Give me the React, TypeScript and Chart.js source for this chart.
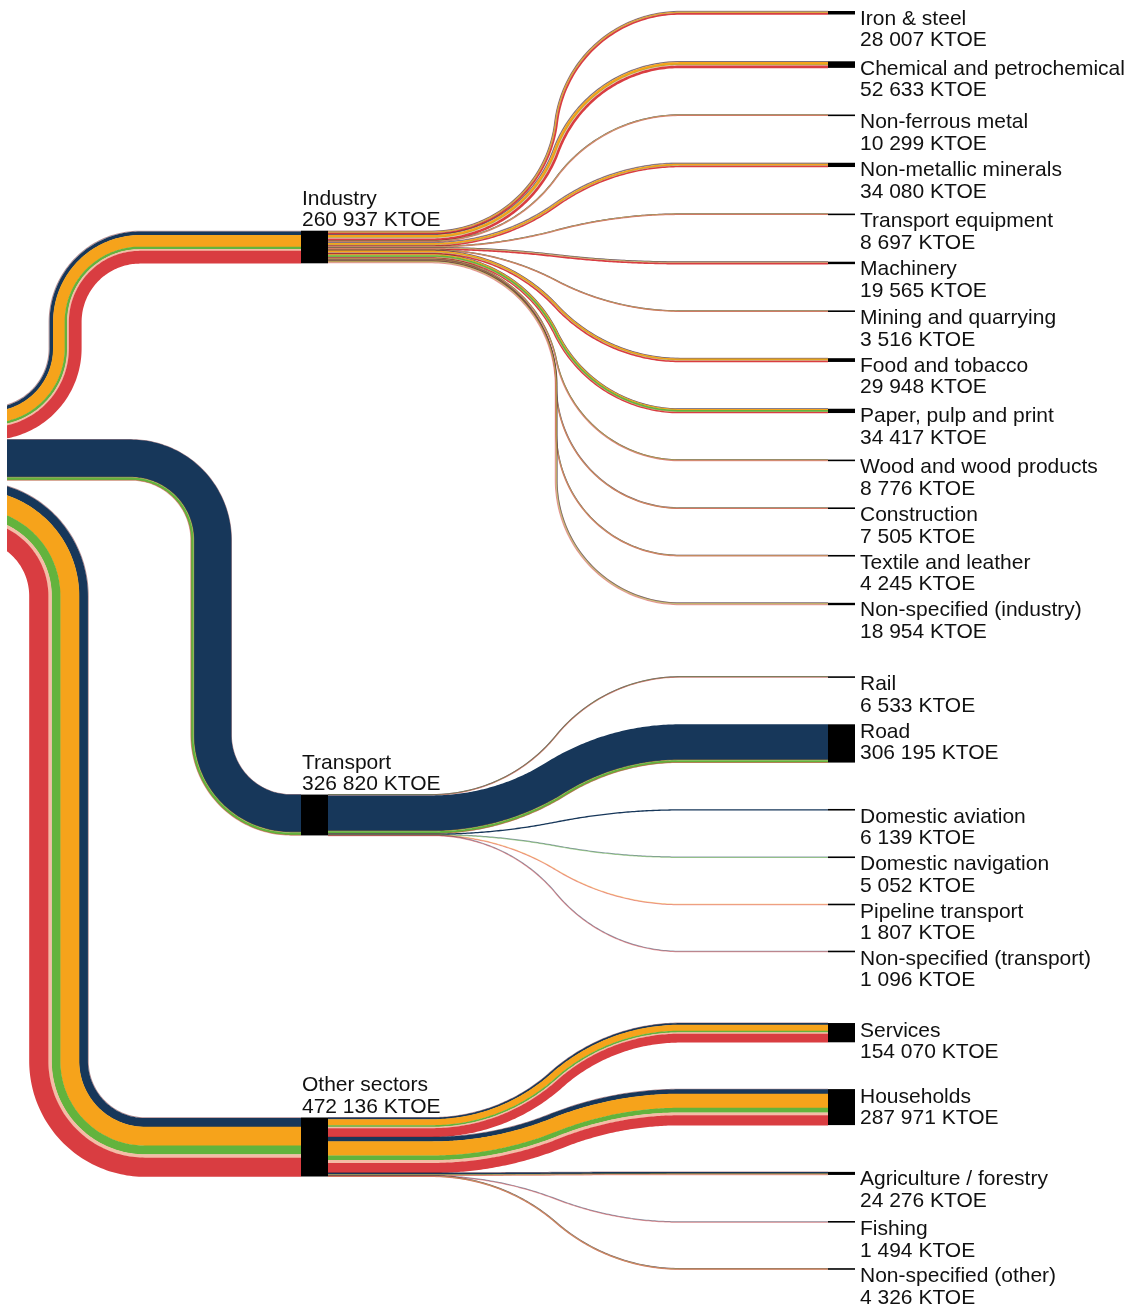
import React, { useEffect, useRef } from "react";
import { Chart, registerables } from "chart.js";

Chart.register(...registerables);

// ---------------- DATA ----------------
const UNIT = "KTOE";

// fuel families, drawn top -> bottom inside every flow
const FUEL_TYPES = [
  "Solid fossil fuels",
  "Oil and petroleum products",
  "Natural gas",
  "Renewables and biofuels",
  "Heat",
  "Electricity",
];

const SECTOR_NAMES = ["Industry", "Transport", "Other sectors"];
const SECTOR_VALUES = [260937, 326820, 472136];
const INDUSTRY_FUEL_MIX = [7000, 27500, 93000, 19500, 14400, 99537];
const TRANSPORT_FUEL_MIX = [50, 299970, 3500, 18500, 0, 4800];
const OTHER_FUEL_MIX = [4700, 69000, 151000, 69000, 27400, 151036];

const INDUSTRY_NAMES = [
  "Iron & steel",
  "Chemical and petrochemical",
  "Non-ferrous metal",
  "Non-metallic minerals",
  "Transport equipment",
  "Machinery",
  "Mining and quarrying",
  "Food and tobacco",
  "Paper, pulp and print",
  "Wood and wood products",
  "Construction",
  "Textile and leather",
  "Non-specified (industry)",
];
const INDUSTRY_VALUES = [28007, 52633, 10299, 34080, 8697, 19565, 3516, 29948, 34417, 8776, 7505, 4245, 18954];
const INDUSTRY_MIX = [
  [5000, 1000, 9500, 500, 500, 11507],
  [1500, 5000, 20000, 1500, 6000, 18633],
  [200, 600, 3000, 100, 300, 6099],
  [2500, 5000, 14000, 3000, 300, 9280],
  [50, 300, 2800, 100, 400, 5047],
  [100, 1500, 6000, 400, 1000, 10565],
  [50, 800, 700, 50, 50, 1866],
  [500, 2000, 13000, 2500, 2000, 9948],
  [500, 800, 8000, 15000, 2000, 8117],
  [20, 400, 800, 4500, 300, 2756],
  [20, 3500, 1200, 300, 100, 2385],
  [20, 300, 1700, 100, 300, 1825],
  [500, 2500, 5000, 2500, 1500, 6954],
];

const TRANSPORT_NAMES = [
  "Rail",
  "Road",
  "Domestic aviation",
  "Domestic navigation",
  "Pipeline transport",
  "Non-specified (transport)",
];
const TRANSPORT_VALUES = [6533, 306195, 6139, 5052, 1807, 1096];
const TRANSPORT_MIX = [
  [10, 1800, 0, 100, 0, 4623],
  [0, 284000, 3000, 17500, 0, 1695],
  [0, 6139, 0, 0, 0, 0],
  [0, 1800, 0, 3252, 0, 0],
  [0, 0, 1000, 0, 0, 807],
  [0, 600, 0, 0, 0, 496],
];

const OTHER_NAMES = ["Services", "Households", "Agriculture / forestry", "Fishing", "Non-specified (other)"];
const OTHER_VALUES = [154070, 287971, 24276, 1494, 4326];
const OTHER_MIX = [
  [500, 13000, 48000, 13000, 11000, 68570],
  [2000, 34600, 113000, 37000, 23000, 78371],
  [200, 14000, 3000, 2500, 300, 4276],
  [0, 1400, 0, 0, 0, 94],
  [50, 1800, 800, 300, 200, 1176],
];

// ---------------- STYLE / LAYOUT ----------------
const FUEL_COLORS = ["#6e1d24", "#17375a", "#f6a31b", "#63b33d", "#f4bca6", "#d93d41"];
const CANVAS_W = 1131;
const CANVAS_H = 1309;
const PX_PER_UNIT = 1.25e-4; // vertical layout scale (px per KTOE)
const LAYOUT = {
  clipLeft: 7,
  sourceX: -60,
  sourceTop: 407,
  sectorNodeX: 301,
  nodeW: 27,
  sectorCenters: [247, 815, 1147],
  leftBends: [
    { xc: 65, r: 75 },
    { xc: 211, r: 80 },
    { xc: 59, r: 86 },
  ],
  curveStart: 432,
  curveEnd: 680,
  rightNodeX: 828,
  rightTop: 11,
  gap: 46.8,
  groupGap: 71.5,
  minLink: 1.0,
  minStripe: 1.0,
  thinAlpha: 0.5,
  minNode: 1.6,
  labelX: 860,
  font: '21px "Liberation Sans", Arial, Helvetica, sans-serif',
  textColor: "#111111",
};

const fmt = (n: number) => String(n).replace(/\B(?=(\d{3})+(?!\d))/g, " ") + " " + UNIT;

type Pt = { x: number; y: number; a: number };

function centerline(xStart: number, y0: number, xs: number, xe: number, y1: number, xEnd: number): Pt[] {
  const pts: Pt[] = [{ x: xStart, y: y0, a: 0 }];
  const H = Math.abs(y1 - y0);
  const s = y1 >= y0 ? 1 : -1;
  const W = xe - xs;
  if (H < 0.05) {
    pts.push({ x: xEnd, y: y1, a: 0 });
    return pts;
  }
  let th: number, r: number;
  if (H <= W) {
    th = 2 * Math.atan(H / W);
    r = W / (2 * Math.sin(th));
  } else {
    th = Math.PI / 2;
    r = W / 2;
  }
  const N = 60;
  for (let i = 0; i <= N; i++) {
    const al = (th * i) / N;
    pts.push({ x: xs + r * Math.sin(al), y: y0 + s * r * (1 - Math.cos(al)), a: s * al });
  }
  for (let i = N; i >= 0; i--) {
    const b = (th * i) / N;
    pts.push({ x: xe - r * Math.sin(b), y: y1 - s * r * (1 - Math.cos(b)), a: s * b });
  }
  pts.push({ x: xEnd, y: y1, a: 0 });
  return pts;
}

function fillStripe(ctx: CanvasRenderingContext2D, pts: Pt[], d1: number, d2: number, color: string) {
  ctx.beginPath();
  pts.forEach((p, i) => {
    const x = p.x - d1 * Math.sin(p.a);
    const y = p.y + d1 * Math.cos(p.a);
    if (i === 0) ctx.moveTo(x, y);
    else ctx.lineTo(x, y);
  });
  for (let i = pts.length - 1; i >= 0; i--) {
    const p = pts[i];
    ctx.lineTo(p.x - d2 * Math.sin(p.a), p.y + d2 * Math.cos(p.a));
  }
  ctx.closePath();
  ctx.fillStyle = color;
  ctx.fill();
}

function drawBand(ctx: CanvasRenderingContext2D, pts: Pt[], width: number, mix: number[]) {
  const total = mix.reduce((a, b) => a + b, 0);
  let d = -width / 2;
  mix.forEach((v, j) => {
    if (v <= 0) return;
    const w = (v / total) * width;
    if (w < LAYOUT.minStripe) {
      const c = d + w / 2;
      ctx.globalAlpha = LAYOUT.thinAlpha;
      fillStripe(ctx, pts, c - LAYOUT.minStripe / 2, c + LAYOUT.minStripe / 2, FUEL_COLORS[j]);
      ctx.globalAlpha = 1;
    } else {
      fillStripe(ctx, pts, d, d + w + 0.3, FUEL_COLORS[j]);
    }
    d += w;
  });
}

const SECTORS = SECTOR_NAMES.map((name, i) => ({
  name,
  value: SECTOR_VALUES[i],
  mix: [INDUSTRY_FUEL_MIX, TRANSPORT_FUEL_MIX, OTHER_FUEL_MIX][i],
  subs: [
    INDUSTRY_NAMES.map((n, j) => ({ name: n, value: INDUSTRY_VALUES[j], mix: INDUSTRY_MIX[j] })),
    TRANSPORT_NAMES.map((n, j) => ({ name: n, value: TRANSPORT_VALUES[j], mix: TRANSPORT_MIX[j] })),
    OTHER_NAMES.map((n, j) => ({ name: n, value: OTHER_VALUES[j], mix: OTHER_MIX[j] })),
  ][i],
}));

const sankeyPlugin = {
  id: "sankeyFlows",
  afterDatasetsDraw(chart: any) {
    const ctx: CanvasRenderingContext2D = chart.ctx;
    const X = chart.scales.x;
    const Y = chart.scales.y;
    const px = (v: number) => X.getPixelForValue(v);
    const py = (v: number) => Y.getPixelForValue(v);
    const hp = (v: number) => Math.abs(py(v) - py(0));
    const U = (p: number) => p / PX_PER_UNIT; // layout px -> value units

    // right node tops (value units)
    const subTops: number[][] = [];
    let cur = U(LAYOUT.rightTop);
    SECTORS.forEach((sec, i) => {
      if (i > 0) cur += U(LAYOUT.groupGap - LAYOUT.gap);
      subTops.push(
        sec.subs.map((s) => {
          const t = cur;
          cur += s.value + U(LAYOUT.gap);
          return t;
        })
      );
    });
    const secTops = SECTORS.map((s, i) => U(LAYOUT.sectorCenters[i]) - s.value / 2);

    ctx.save();
    ctx.beginPath();
    ctx.rect(LAYOUT.clipLeft, 0, CANVAS_W, CANVAS_H);
    ctx.clip();

    // left flows: source -> sectors
    let srcCur = U(LAYOUT.sourceTop);
    SECTORS.forEach((sec, i) => {
      const y0 = py(srcCur + sec.value / 2);
      srcCur += sec.value;
      const y1 = py(secTops[i] + sec.value / 2);
      const b = LAYOUT.leftBends[i];
      const pts = centerline(px(LAYOUT.sourceX), y0, px(b.xc - b.r), px(b.xc + b.r), y1, px(LAYOUT.sectorNodeX));
      drawBand(ctx, pts, hp(sec.value), sec.mix);
    });

    // right flows: sectors -> sub-sectors
    SECTORS.forEach((sec, i) => {
      let c = secTops[i];
      sec.subs.forEach((sub, j) => {
        const y0 = py(c + sub.value / 2);
        c += sub.value;
        const y1 = py(subTops[i][j] + sub.value / 2);
        const pts = centerline(
          px(LAYOUT.sectorNodeX + LAYOUT.nodeW),
          y0,
          px(LAYOUT.curveStart),
          px(LAYOUT.curveEnd),
          y1,
          px(LAYOUT.rightNodeX)
        );
        drawBand(ctx, pts, Math.max(hp(sub.value), LAYOUT.minLink), sub.mix);
      });
    });

    // nodes
    ctx.fillStyle = "#000";
    SECTORS.forEach((sec, i) => {
      ctx.fillRect(px(LAYOUT.sectorNodeX), py(secTops[i]), LAYOUT.nodeW, hp(sec.value));
      sec.subs.forEach((sub, j) => {
        const h = Math.max(hp(sub.value), LAYOUT.minNode);
        const yc = py(subTops[i][j] + sub.value / 2);
        ctx.fillRect(px(LAYOUT.rightNodeX), yc - h / 2, LAYOUT.nodeW, h);
      });
    });

    // labels
    ctx.font = LAYOUT.font;
    ctx.fillStyle = LAYOUT.textColor;
    ctx.textAlign = "left";
    ctx.textBaseline = "alphabetic";
    SECTORS.forEach((sec, i) => {
      const t = py(secTops[i]);
      ctx.fillText(sec.name, px(LAYOUT.sectorNodeX + 1), t - 26);
      ctx.fillText(fmt(sec.value), px(LAYOUT.sectorNodeX + 1), t - 4.5);
      sec.subs.forEach((sub, j) => {
        const st = py(subTops[i][j]);
        ctx.fillText(sub.name, px(LAYOUT.labelX), st + 13.5);
        ctx.fillText(fmt(sub.value), px(LAYOUT.labelX), st + 35);
      });
    });
    ctx.restore();
  },
};

export default function App() {
  const ref = useRef<HTMLCanvasElement>(null);
  useEffect(() => {
    if (!ref.current) return;
    const chart = new Chart(ref.current, {
      type: "scatter",
      data: { datasets: [{ data: [], showLine: false }] },
      options: {
        responsive: false,
        animation: false,
        devicePixelRatio: 1,
        events: [],
        layout: { padding: 0 },
        plugins: { legend: { display: false }, tooltip: { enabled: false } },
        scales: {
          x: { type: "linear", display: false, min: 0, max: CANVAS_W },
          y: { type: "linear", display: false, min: 0, max: CANVAS_H / PX_PER_UNIT, reverse: true },
        },
      },
      plugins: [sankeyPlugin],
    } as any);
    return () => chart.destroy();
  }, []);
  return (
    <div style={{ position: "absolute", left: 0, top: 0, width: CANVAS_W, height: CANVAS_H, overflow: "hidden", background: "#fff" }}>
      <canvas ref={ref} width={CANVAS_W} height={CANVAS_H} style={{ display: "block", width: CANVAS_W, height: CANVAS_H }} />
    </div>
  );
}
